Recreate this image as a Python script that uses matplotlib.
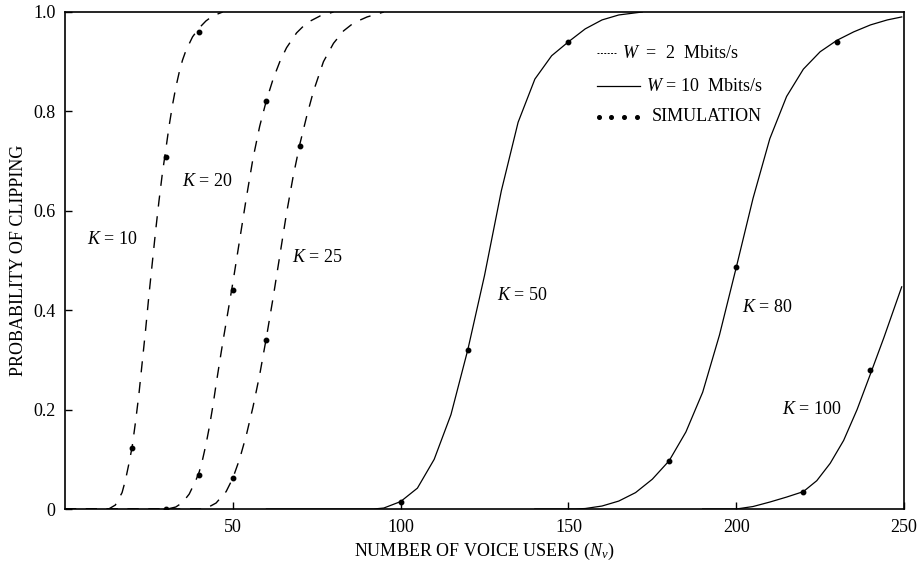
import matplotlib
matplotlib.use("Agg")
import matplotlib.pyplot as plt

plt.rcParams['font.family'] = ['Liberation Serif', 'DejaVu Serif']
plt.rcParams['mathtext.fontset'] = 'custom'
plt.rcParams['mathtext.rm'] = 'Liberation Serif'
plt.rcParams['mathtext.it'] = 'Liberation Serif:italic'

# analytic curves, W = 2 Mbits/s (dashed)
k10_x = [0, 13, 15, 17, 18, 19, 20, 21, 22, 23, 24, 25, 26, 27, 28, 29, 30, 31, 32, 33,
         34, 35, 36, 38, 40, 42, 44, 47]
k10_y = [0, 0, 0.008, 0.033, 0.058, 0.09, 0.125, 0.175, 0.23, 0.295, 0.36, 0.43, 0.495,
         0.56, 0.62, 0.675, 0.722, 0.77, 0.812, 0.848, 0.878, 0.903, 0.922, 0.95, 0.968,
         0.982, 0.992, 1.0]

k20_x = [0, 30.5, 33, 35, 37, 38, 39, 40, 41, 42, 43, 44, 45, 46, 47, 48, 50, 52, 54, 56,
         58, 60, 62, 64, 66, 69, 72, 76, 80]
k20_y = [0, 0, 0.004, 0.013, 0.03, 0.044, 0.058, 0.075, 0.1, 0.13, 0.165, 0.205, 0.25,
         0.293, 0.335, 0.375, 0.455, 0.54, 0.625, 0.705, 0.77, 0.822, 0.865, 0.9, 0.928,
         0.958, 0.978, 0.992, 1.0]

k25_x = [0, 41.7, 45, 48, 50, 52, 54, 56, 58, 60, 62, 64, 66, 68, 70, 72, 74, 77, 80, 83,
         86, 90, 95]
k25_y = [0, 0, 0.012, 0.035, 0.062, 0.1, 0.148, 0.205, 0.27, 0.345, 0.425, 0.51, 0.595,
         0.67, 0.735, 0.79, 0.84, 0.9, 0.937, 0.962, 0.978, 0.99, 1.0]

# analytic curves, W = 10 Mbits/s (solid)
k50_x = [60, 92, 95, 100, 105, 110, 115, 120, 125, 130, 135, 140, 145, 150, 155, 160, 165,
         172]
k50_y = [0, 0, 0.002, 0.015, 0.042, 0.1, 0.19, 0.32, 0.47, 0.64, 0.778, 0.865, 0.912, 0.94,
         0.966, 0.984, 0.994, 1.0]

k80_x = [140, 152, 155, 160, 165, 170, 175, 180, 185, 190, 195, 200, 205, 210, 215, 220,
         225, 230, 235, 240, 245, 249.3]
k80_y = [0, 0, 0.001, 0.006, 0.016, 0.033, 0.06, 0.097, 0.155, 0.235, 0.35, 0.486, 0.625,
         0.745, 0.83, 0.885, 0.92, 0.943, 0.96, 0.974, 0.984, 0.99]

k100_x = [190, 200, 205, 210, 215, 220, 224, 228, 232, 236, 240, 244, 249.3]
k100_y = [0, 0, 0.005, 0.014, 0.024, 0.035, 0.057, 0.092, 0.138, 0.2, 0.272, 0.345, 0.447]

# simulation points
sim_x = [20, 30, 40, 30, 40, 50, 60, 50, 60, 70, 100, 120, 150, 180, 200, 230, 220, 240]
sim_y = [0.122, 0.709, 0.96, 0.0, 0.068, 0.44, 0.82, 0.062, 0.34, 0.73, 0.015, 0.32, 0.939,
         0.097, 0.486, 0.939, 0.035, 0.28]

curve_labels = [r"$K$ = 10", r"$K$ = 20", r"$K$ = 25", r"$K$ = 50", r"$K$ = 80", r"$K$ = 100"]
label_x = [6.6, 34.9, 67.6, 128.7, 201.7, 213.5]
label_y = [0.543, 0.658, 0.507, 0.43, 0.406, 0.2]

fig = plt.figure(figsize=(9.21, 5.65), dpi=100)
ax = fig.add_axes([0.0706, 0.0991, 0.9110, 0.8797])

dash = (0, (8, 7))
for xs, ys in [(k10_x, k10_y), (k20_x, k20_y), (k25_x, k25_y)]:
    ax.plot(xs, ys, color='black', lw=1.0, linestyle=dash)
for xs, ys in [(k50_x, k50_y), (k80_x, k80_y), (k100_x, k100_y)]:
    ax.plot(xs, ys, color='black', lw=0.9)
ax.plot(sim_x, sim_y, 'o', color='black', markersize=3.2)

for lab, lx, ly in zip(curve_labels, label_x, label_y):
    ax.text(lx, ly, lab, fontsize=13, va='center', ha='left')

# legend drawn by hand in axes coordinates
ax.plot([0.634, 0.658], [0.917, 0.917], transform=ax.transAxes, color='black', lw=0.7,
        linestyle=(0, (2, 1.5)))
ax.text(0.664, 0.917, r"$W$  =  2  Mbits/s", transform=ax.transAxes, fontsize=13, va='center')
ax.plot([0.634, 0.685], [0.851, 0.851], transform=ax.transAxes, color='black', lw=0.9)
ax.text(0.692, 0.851, r"$W$ = 10  Mbits/s", transform=ax.transAxes, fontsize=13, va='center')
ax.plot([0.636, 0.651, 0.666, 0.682], [0.789] * 4, 'o', transform=ax.transAxes,
        color='black', markersize=2.6)
ax.text(0.699, 0.789, "SIMULATION", transform=ax.transAxes, fontsize=13, va='center')

ax.set_xlim(0, 250)
ax.set_ylim(0, 1.0)
ax.set_xticks([50, 100, 150, 200, 250])
ax.set_yticks([0, 0.2, 0.4, 0.6, 0.8, 1.0])
ax.set_yticklabels(["0", "0.2", "0.4", "0.6", "0.8", "1.0"])
ax.tick_params(direction='in', length=5, width=1, labelsize=13, pad=7)
for s in ax.spines.values():
    s.set_linewidth(1.2)

ax.set_xlabel(r"NUMBER OF VOICE USERS ($N_v$)", fontsize=13, labelpad=4)
ax.set_ylabel("PROBABILITY OF CLIPPING", fontsize=13, labelpad=4)

fig.savefig("out.png", dpi=100)
